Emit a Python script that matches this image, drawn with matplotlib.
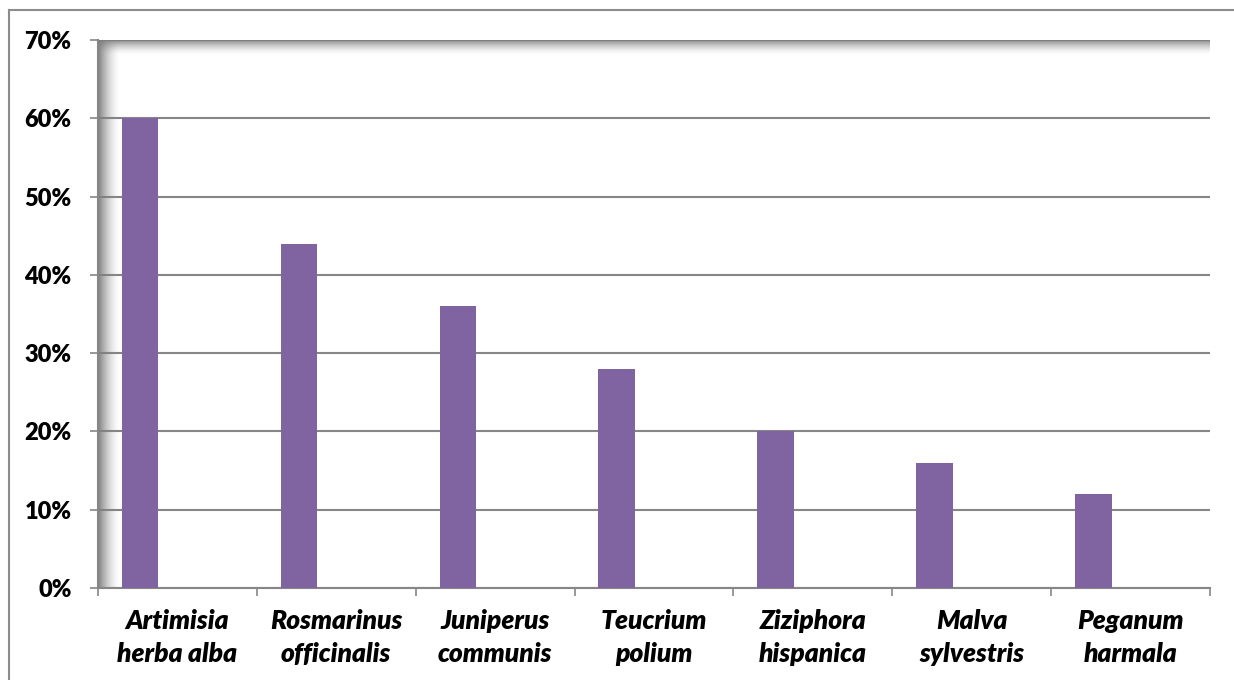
import numpy as np
import matplotlib
matplotlib.use("Agg")
import matplotlib.pyplot as plt
from matplotlib.lines import Line2D
from matplotlib.ticker import FixedLocator, PercentFormatter

# ---------- data ----------
species = ["Artimisia\nherba alba", "Rosmarinus\nofficinalis", "Juniperus\ncommunis",
           "Teucrium\npolium", "Ziziphora\nhispanica", "Malva\nsylvestris", "Peganum\nharmala"]
share = [0.60, 0.44, 0.36, 0.28, 0.20, 0.16, 0.12]

BAR = "#8064A2"
GRID = "#868686"
W, H = 1234, 680

plt.rcParams["font.family"] = ["Lato", "DejaVu Sans"]

fig = plt.figure(figsize=(W / 100, H / 100), dpi=100)
ax = fig.add_axes([98 / W, (H - 588) / H, 1112 / W, 548 / H])

x = np.arange(len(species))
# bar sits in the left part of each category slot (excel clustered look)
ax.bar(x - 0.235, share, width=0.23, color=BAR, zorder=3)

# plot-area inner shadow (top + left)
n = 64
top = np.zeros((n, 1, 4))
top[..., :3] = 0.5
top[:, 0, 3] = np.linspace(1, 0, n) ** 1.6
ax.imshow(top, extent=(0, 1, 1 - 0.028, 1), transform=ax.transAxes,
          aspect="auto", zorder=1, interpolation="bilinear")
left = np.zeros((1, n, 4))
left[..., :3] = 0.5
left[0, :, 3] = np.linspace(1, 0, n) ** 1.6
ax.imshow(left, extent=(0, 0.019, 0, 1), transform=ax.transAxes,
          aspect="auto", zorder=1, interpolation="bilinear")
ax.set_xlim(-0.5, len(species) - 0.5)
ax.set_ylim(0, 0.70)

ax.set_yticks(np.arange(0, 0.71, 0.1))
ax.yaxis.set_major_formatter(PercentFormatter(1.0, decimals=0))
ax.grid(axis="y", color=GRID, lw=1.5, zorder=2)
ax.set_axisbelow(True)

ax.set_xticks(x)
ax.set_xticklabels(species, fontsize=19, fontweight="heavy", fontstyle="italic",
                   linespacing=1.45)
ax.xaxis.set_minor_locator(FixedLocator(np.arange(-0.5, len(species), 1.0)))
ax.tick_params(axis="x", which="major", length=0, pad=15)
ax.tick_params(axis="x", which="minor", length=6, width=1.2, color=GRID, direction="out")
ax.tick_params(axis="y", length=6, width=1.2, color=GRID, pad=13, labelsize=17)
for lab in ax.get_yticklabels():
    lab.set_fontweight("heavy")

for s in ["top", "right"]:
    ax.spines[s].set_visible(False)
for s in ["left", "bottom"]:
    ax.spines[s].set_color(GRID)
    ax.spines[s].set_linewidth(1.5)

# outer chart border (only top and left visible in the crop)
px = lambda v: v / W
py = lambda v: 1 - v / H
fig.add_artist(Line2D([px(9), 1.0], [py(10), py(10)], color="#8c8c8c", lw=1.5))
fig.add_artist(Line2D([px(9), px(9)], [py(10), 0.0], color="#8c8c8c", lw=1.5))

fig.savefig("out.png", dpi=100, facecolor="white")
